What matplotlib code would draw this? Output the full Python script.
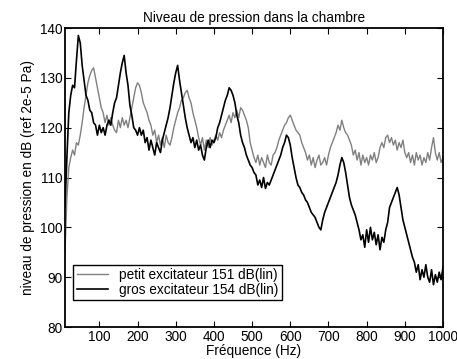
import numpy as np
import matplotlib
matplotlib.use("Agg")
from matplotlib import pyplot as plt

# frequences (Hz), pas de 5 Hz
freq = np.arange(10, 1001, 5)

# niveaux (dB ref 2e-5 Pa)
gros = [
    104, 114, 123, 126.5, 128.5, 128, 133.5, 138.5, 137, 132.5,
    129.5, 126.5, 125.5, 123.5, 123, 121, 120.5, 118.5, 120.5, 119,
    120, 118.5, 120.5, 121.5, 120.5, 123, 125, 126, 128.5, 131,
    133, 134.5, 131, 128.5, 124.5, 122.5, 120, 119.5, 118.5, 120,
    118.5, 119.5, 117, 118, 115.5, 117.5, 116, 114.5, 117, 116,
    115, 117.5, 119, 120.5, 122, 124, 126.5, 129, 131, 132.5,
    129.5, 127, 124.5, 122, 120, 118.5, 117, 118, 116, 117.5,
    115.5, 116.5, 114.5, 113.5, 116, 117.5, 116, 117.5, 117, 118,
    120, 121, 122.5, 124, 125.5, 126.5, 128, 127.5, 126.5, 125,
    122.5, 121, 118.5, 117, 116, 114.5, 113.5, 112.5, 112, 111,
    110.5, 108.5, 109.5, 108, 110, 107.8, 109, 108.5, 109.5, 110.5,
    111.5, 112.5, 113.5, 114.5, 116, 117, 118.5, 118, 116.5, 114,
    112, 110, 108.5, 108, 107, 106.5, 105.5, 105, 104, 103,
    102.5, 102, 101, 100, 99.5, 101.5, 103, 104, 105, 106,
    107, 108, 109, 110.5, 112.5, 114, 113, 111, 108.5, 106,
    104.5, 103.5, 102.5, 101, 99.5, 97.5, 98.5, 96, 99.5, 97,
    100, 97.5, 99, 96.5, 98.5, 95.5, 98, 97, 99.5, 101,
    104, 105, 106, 107, 108, 106.5, 104, 101.5, 100, 98.5,
    97, 95.5, 94, 93, 91, 92.5, 89.5, 91.5, 90, 92.5,
    90, 89, 91.5, 88.5, 90.5, 89, 91, 89.5, 92,
]

petit = [
    95, 106, 112, 114, 115.5, 114.5, 117, 116.5, 118.5, 121,
    124, 126.5, 129, 130.5, 131.5, 132, 130, 128, 126, 124,
    123, 121, 122.5, 120.5, 122, 120.5, 119.5, 119, 121.5, 120,
    122, 120.5, 121.5, 120, 122, 124, 126, 128, 129, 128.5,
    127, 125, 124, 123, 121.5, 120.5, 118.5, 119.5, 117, 118.5,
    116.5, 118, 116, 118.5, 117, 116.5, 118, 120, 121.5, 123,
    124, 125.5, 126, 127, 127.5, 126, 125, 123, 121.5, 120,
    118, 116.5, 118, 115.5, 117.5, 116, 118, 116.5, 117.5, 118.5,
    117.5, 119, 118, 119.5, 120.5, 121.5, 122.5, 121, 123, 122,
    123.5, 122, 124, 123.5, 122.5, 121.5, 120, 117, 115.5, 114,
    113, 114.5, 112.5, 114, 113, 112, 114.5, 113, 112.5, 114.5,
    115, 116, 117.5, 118.5, 119.5, 120.5, 121, 122, 122.5, 121.5,
    120.5, 119.5, 119, 118.5, 117, 116, 115, 113.5, 114.5, 112.5,
    114, 112, 113.5, 114.5, 112.5, 113, 114, 112.5, 114.5, 116,
    117, 118, 119, 120.5, 119.5, 121.5, 120, 119, 118.5, 117.5,
    116.5, 114.5, 115.5, 113.5, 115, 112.5, 114.5, 113, 114, 112.5,
    114.5, 113.5, 115, 113, 114, 116, 117, 116, 118, 118.5,
    117, 118, 116.5, 117.5, 115.5, 117, 116, 117.5, 115, 114,
    115, 113, 114.5, 112.5, 115, 113.5, 114.5, 112.5, 114, 113,
    115, 113.5, 116, 118, 115, 113.5, 115, 113, 114,
]

labels = ["petit excitateur 151 dB(lin)", "gros excitateur 154 dB(lin)"]
xticks = list(range(100, 1001, 100))
yticks = list(range(80, 141, 10))

plt.rcParams['font.family'] = ['Liberation Sans', 'DejaVu Sans']
plt.rcParams['font.size'] = 9.8

fig = plt.figure(figsize=(4.57, 3.59), dpi=100)
ax = fig.add_axes([0.1422, 0.0891, 0.8272, 0.8329])

ax.plot(freq, petit, color='#808080', lw=1.0, label=labels[0])
ax.plot(freq, gros, color='black', lw=1.2, label=labels[1])

ax.set_xlim(10, 1000)
ax.set_ylim(80, 140)
ax.set_xticks(xticks)
ax.set_yticks(yticks)
ax.tick_params(direction='in', top=True, right=True, length=4, width=0.8, pad=2)
for s in ax.spines.values():
    s.set_linewidth(1.3)

ax.set_title("Niveau de pression dans la chambre", fontsize=9.8, pad=4)
ax.set_xlabel("Fréquence (Hz)", labelpad=0)
ax.set_ylabel("niveau de pression en dB (ref 2e-5 Pa)", labelpad=3)

leg = ax.legend(loc='lower left', bbox_to_anchor=(0.022, 0.09), fancybox=False,
                edgecolor='black', framealpha=1, borderpad=0.25, handlelength=2.3,
                labelspacing=0.05, borderaxespad=0)
leg.get_frame().set_linewidth(1.0)

fig.savefig("out.png", dpi=100)
